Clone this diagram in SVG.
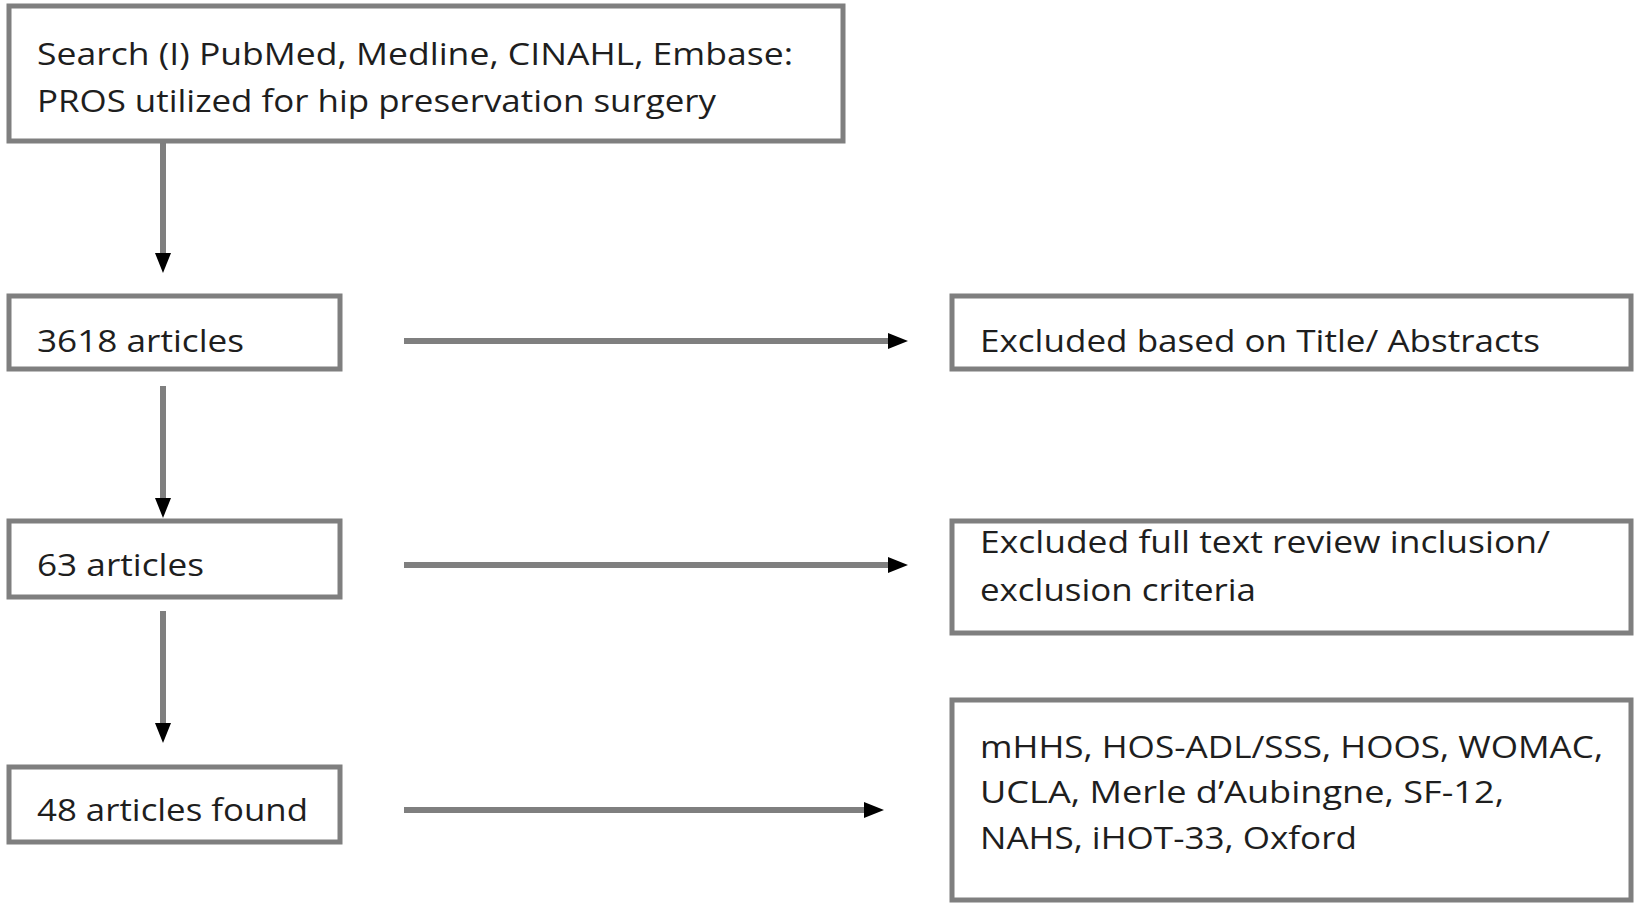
<svg xmlns="http://www.w3.org/2000/svg" width="1634" height="903" viewBox="0 0 1634 903">
<style>
.box{fill:#fff;stroke:#7f7f7f;stroke-width:5}
.t{font-family:"Open Sans","Liberation Sans",sans-serif;font-size:31px;fill:#1e1e1e}
.c{stroke:#7f7f7f;stroke-width:6;fill:none}
</style>
<defs>
<marker id="ah" markerWidth="20" markerHeight="18" refX="10" refY="9" orient="auto" markerUnits="userSpaceOnUse">
<path d="M0,1 L20,9 L0,17 Z" fill="#000"/>
</marker>
</defs>
<rect width="1634" height="903" fill="#fff"/>
<g id="connectors">
<line class="c" x1="163" y1="141" x2="163" y2="263" marker-end="url(#ah)"/>
<line class="c" x1="163" y1="386" x2="163" y2="508" marker-end="url(#ah)"/>
<line class="c" x1="163" y1="611" x2="163" y2="733" marker-end="url(#ah)"/>
<line class="c" x1="404" y1="341" x2="898" y2="341" marker-end="url(#ah)"/>
<line class="c" x1="404" y1="565" x2="898" y2="565" marker-end="url(#ah)"/>
<line class="c" x1="404" y1="810" x2="874" y2="810" marker-end="url(#ah)"/>
</g>
<g id="n1">
<rect class="box" x="9" y="6" width="834" height="135"/>
<text class="t" x="37" y="65" textLength="756" lengthAdjust="spacingAndGlyphs">Search (I) PubMed, Medline, CINAHL, Embase:</text>
<text class="t" x="37" y="112" textLength="679" lengthAdjust="spacingAndGlyphs">PROS utilized for hip preservation surgery</text>
</g>
<g id="n2">
<rect class="box" x="9" y="296" width="331" height="73"/>
<text class="t" x="37" y="352" textLength="207" lengthAdjust="spacingAndGlyphs">3618 articles</text>
</g>
<g id="n3">
<rect class="box" x="952" y="296" width="679" height="73"/>
<text class="t" x="980" y="352" textLength="560" lengthAdjust="spacingAndGlyphs">Excluded based on Title/ Abstracts</text>
</g>
<g id="n4">
<rect class="box" x="9" y="521" width="331" height="76"/>
<text class="t" x="37" y="576" textLength="167" lengthAdjust="spacingAndGlyphs">63 articles</text>
</g>
<g id="n5">
<rect class="box" x="952" y="521" width="679" height="112"/>
<text class="t" x="980" y="553" textLength="570" lengthAdjust="spacingAndGlyphs">Excluded full text review inclusion/</text>
<text class="t" x="980" y="601" textLength="276" lengthAdjust="spacingAndGlyphs">exclusion criteria</text>
</g>
<g id="n6">
<rect class="box" x="9" y="767" width="331" height="75"/>
<text class="t" x="37" y="821" textLength="271" lengthAdjust="spacingAndGlyphs">48 articles found</text>
</g>
<g id="n7">
<rect class="box" x="952" y="700" width="679" height="200"/>
<text class="t" x="980" y="758" textLength="623" lengthAdjust="spacingAndGlyphs">mHHS, HOS-ADL/SSS, HOOS, WOMAC,</text>
<text class="t" x="980" y="803" textLength="524" lengthAdjust="spacingAndGlyphs">UCLA, Merle d’Aubingne, SF-12,</text>
<text class="t" x="980" y="849" textLength="377" lengthAdjust="spacingAndGlyphs">NAHS, iHOT-33, Oxford</text>
</g>
</svg>
